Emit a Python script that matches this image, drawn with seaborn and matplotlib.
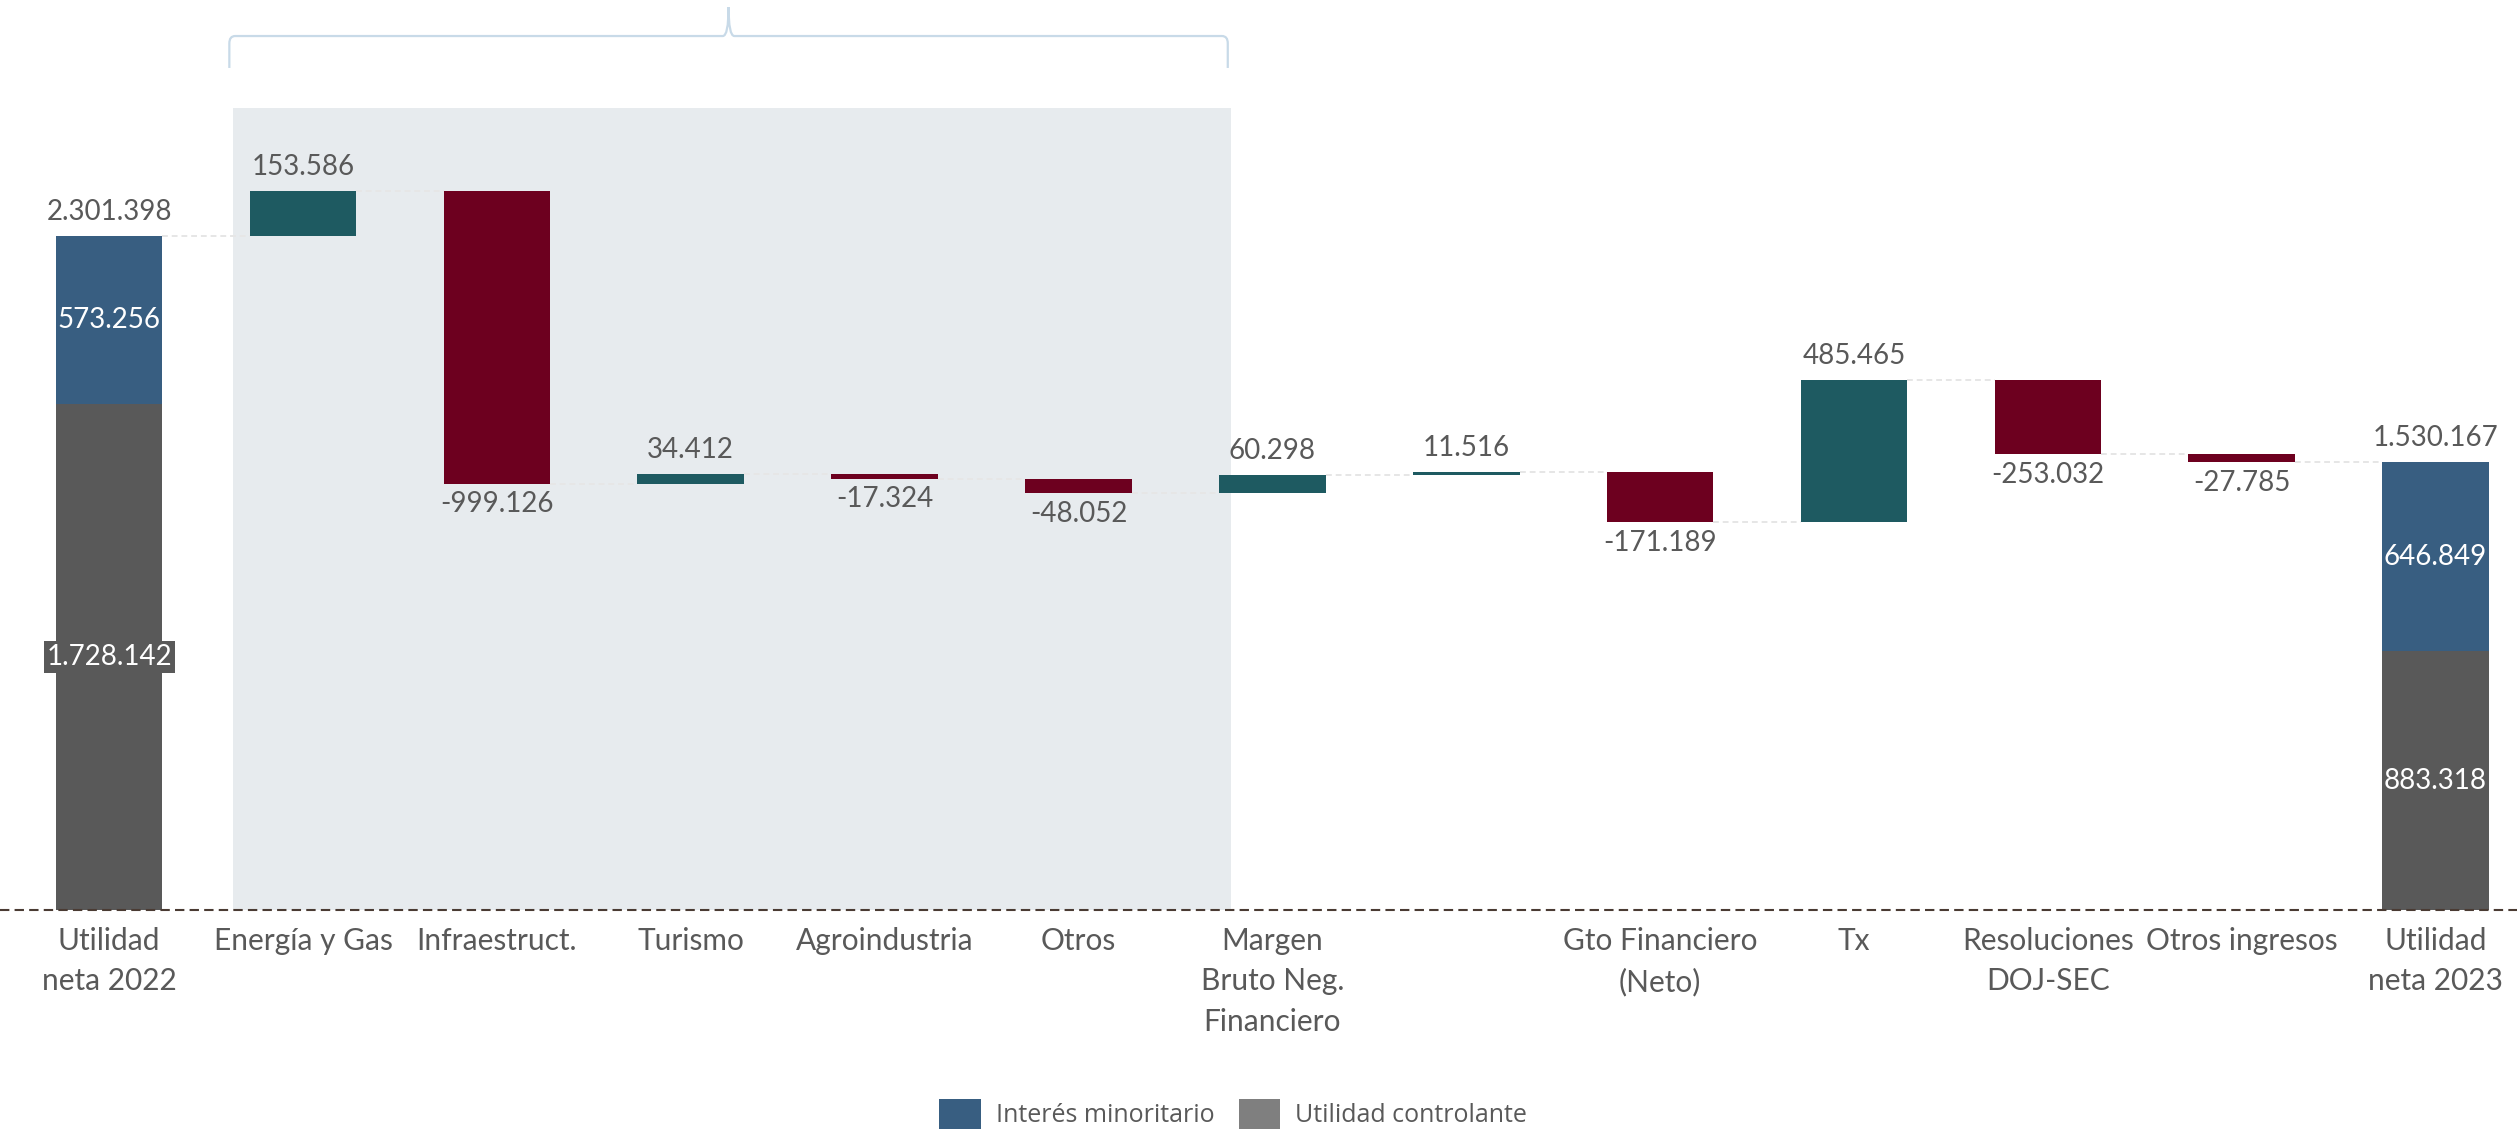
import numpy as np
import pandas as pd
import matplotlib
matplotlib.use('Agg')
import matplotlib.pyplot as plt
import seaborn as sns
from matplotlib.patches import Patch, PathPatch, Rectangle
from matplotlib.path import Path

# datos (miles)
categorias = ['Utilidad\nneta 2022', 'Energía y Gas', 'Infraestruct.', 'Turismo',
              'Agroindustria', 'Otros', 'Margen\nBruto Neg.\nFinanciero', ' ',
              'Gto Financiero\n(Neto)', 'Tx', 'Resoluciones\nDOJ-SEC', 'Otros ingresos',
              'Utilidad\nneta 2023']
variaciones = [153586, -999126, 34412, -17324, -48052, 60298, 11516,
               -171189, 485465, -253032, -27785]
controlante = [1728142, 883318]
minoritario = [573256, 646849]
leyenda = ['Interés minoritario', 'Utilidad controlante']

TEAL = '#1e5a61'
MAROON = '#6d001f'
BLUE = '#385e81'
GRAY = '#595959'
TXT = '#595959'
FONT = ['Lato', 'DejaVu Sans']
FS = 20
W = 0.55


def fmt(v):
    return f'{v:,}'.replace(',', '.')


sns.set_theme(style='white')
plt.rcParams['font.family'] = FONT

inicio = controlante[0] + minoritario[0]
var = np.array(variaciones)
niveles = inicio + np.cumsum(var)
previo = np.r_[inicio, niveles[:-1]]

df_var = pd.DataFrame({
    'categoria': categorias[1:-1],
    'altura': np.abs(var),
    'base': np.minimum(previo, niveles),
    'sube': var > 0,
})
df_tot = pd.DataFrame({
    'categoria': [categorias[0], categorias[-1]],
    'controlante': controlante,
    'minoritario': minoritario,
})

fig = plt.figure(figsize=(25.17, 11.32), dpi=100)
ax = fig.add_axes([0, 0.1961, 1, 0.8039])

# zona sombreada de los negocios + llave
ax.add_patch(Rectangle((0.637, 0), 5.785 - 0.637, 2.7397e6, facecolor='#e7ebee',
                       edgecolor='none', zorder=0))
x0, x1 = 0.62, 5.77
xm = (x0 + x1) / 2
y_low, y_mid, y_top = 2.875e6, 2.984e6, 3.083e6
rx, ry = 0.03, 25000
verts = [(x0, y_low), (x0, y_mid - ry), (x0, y_mid), (x0 + rx, y_mid),
         (xm - rx, y_mid), (xm, y_mid), (xm, y_top),
         (xm, y_mid), (xm + rx, y_mid),
         (x1 - rx, y_mid), (x1, y_mid), (x1, y_mid - ry), (x1, y_low)]
codes = [Path.MOVETO, Path.LINETO, Path.CURVE3, Path.CURVE3,
         Path.LINETO, Path.CURVE3, Path.CURVE3,
         Path.CURVE3, Path.CURVE3,
         Path.LINETO, Path.CURVE3, Path.CURVE3, Path.LINETO]
ax.add_patch(PathPatch(Path(verts, codes), facecolor='none', edgecolor='#c8dae8',
                       lw=1.6, zorder=1))

bar_kws = dict(order=categorias, width=W, saturation=1, errorbar=None, ax=ax,
               zorder=2, linewidth=0, edgecolor='none')

# barras de totales apiladas
sns.barplot(data=df_tot, x='categoria', y='controlante', color=GRAY, **bar_kws)
sns.barplot(data=df_tot, x='categoria', y='minoritario', color=BLUE,
            bottom=df_tot['controlante'].values, **bar_kws)

# barras de variacion
for sube, color in [(True, TEAL), (False, MAROON)]:
    sub = df_var[df_var['sube'] == sube]
    sns.barplot(data=sub, x='categoria', y='altura', color=color,
                bottom=sub['base'].values, **bar_kws)

# conectores
niv_all = np.r_[inicio, niveles]
xs = np.arange(len(niv_all))
ax.hlines(niv_all, xs + W / 2, xs + 1 - W / 2, colors='#e6e6e6', lw=1.4,
          linestyles=(0, (3, 2)), zorder=1)

# etiquetas
for i, v in enumerate(variaciones):
    off = 17 if v > 0 else -15
    ax.annotate(fmt(v), (i + 1, niveles[i]), xytext=(0, off), textcoords='offset points',
                ha='center', va='center', fontsize=FS, color=TXT)

for j, xpos in enumerate([0, len(categorias) - 1]):
    c, m = controlante[j], minoritario[j]
    ax.annotate(fmt(c + m), (xpos, c + m), xytext=(0, 17), textcoords='offset points',
                ha='center', va='center', fontsize=FS, color=TXT)
    ax.text(xpos, c + m / 2, fmt(m), ha='center', va='center', fontsize=FS, color='white',
            zorder=4)
    box = dict(facecolor=GRAY, edgecolor='none', pad=2) if j == 0 else None
    ax.text(xpos, c / 2, fmt(c), ha='center', va='center', fontsize=FS, color='white',
            bbox=box, zorder=4)

ax.axhline(0, color='#4a3b33', lw=1.5, ls=(0, (4.5, 2.5)), zorder=5, clip_on=False)

ax.set_xlim(-0.563, 12.42)
ax.set_ylim(0, 3.107e6)
ax.set_yticks([])
ax.set_xlabel('')
ax.set_ylabel('')
ax.set_facecolor('white')
sns.despine(ax=ax, left=True, bottom=True)
ax.tick_params(axis='x', length=0, pad=12, labelsize=21.5, labelcolor=TXT)
for lbl in ax.get_xticklabels():
    lbl.set_linespacing(1.55)

handles = [Patch(facecolor=BLUE, edgecolor='none'), Patch(facecolor='#7f7f7f', edgecolor='none')]
fig.legend(handles, leyenda, loc='center', bbox_to_anchor=(0.49, 0.016), ncol=2,
           frameon=False, handlelength=1.65, handleheight=1.5,
           handletextpad=0.6, columnspacing=1.0, labelcolor=TXT,
           prop={'family': ['Open Sans', 'DejaVu Sans'], 'size': 18})

fig.savefig('out.png', dpi=100, facecolor='white')
